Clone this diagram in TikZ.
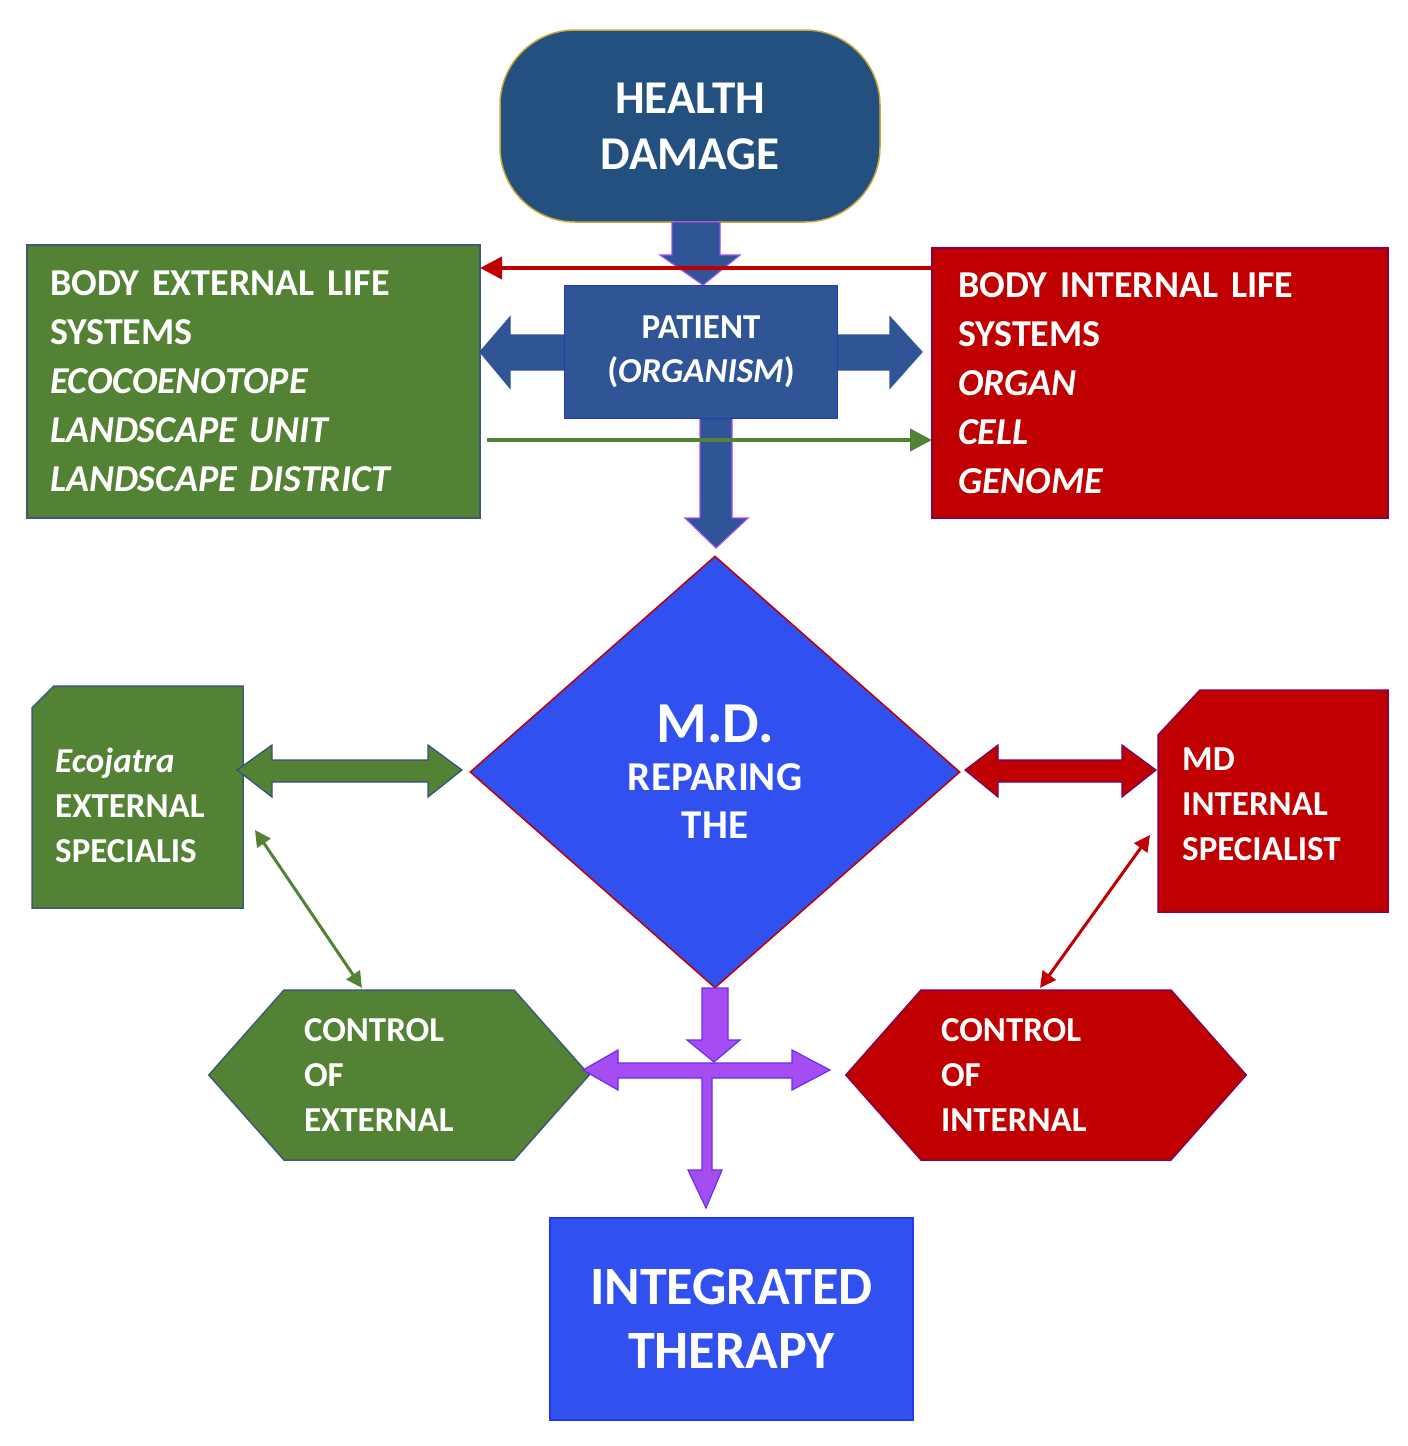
\documentclass[tikz,border=0pt]{standalone}
\usepackage{fontspec}
\setmainfont{Carlito}
\usetikzlibrary{shapes.misc,shapes.symbols,shapes.geometric,arrows.meta}
\definecolor{dblue}{HTML}{24507F}
\definecolor{pblue}{HTML}{2F5597}
\definecolor{bblue}{HTML}{3050F0}
\definecolor{gr}{HTML}{548235}
\definecolor{rd}{HTML}{C00000}
\definecolor{pu}{HTML}{A64DF2}
\definecolor{gold}{HTML}{C9A83A}
\tikzset{
 box/.style={draw=#1!70!blue,line width=1.5pt,fill=#1,text=white,font=\bfseries,inner sep=0pt,outer sep=0pt},
 big/.style={font=\fontsize{38}{49}\selectfont\bfseries},
 mid/.style={font=\fontsize{35}{45}\selectfont\bfseries},
 txt/.style={text=white,inner sep=0pt,anchor=north west,align=left},
 thin/.style={line width=4pt,-{Triangle[length=22pt,width=22pt]}},
 thind/.style={line width=3pt,{Triangle[length=16pt,width=16pt]}-{Triangle[length=16pt,width=16pt]}},
 blk/.style={draw=#1!60!blue,line width=1.2pt,fill=#1},
}
\begin{document}
\begin{tikzpicture}[x=1pt,y=-1pt]
\useasboundingbox (0,0) rectangle (1408,1446);
% Health damage
\node[box=dblue,draw=gold,rounded corners=75pt,minimum width=380pt,minimum height=192pt,align=center,font=\fontsize{47}{56}\selectfont\bfseries] (hd) at (690,126) {HEALTH\\DAMAGE};
% left/right top boxes
\node[box=gr,minimum width=453pt,minimum height=273pt,anchor=north west,text width=407pt,align=left,big,inner xsep=23pt] (ext) at (27,245) {BODY EXTERNAL LIFE\\SYSTEMS\\\textit{ECOCOENOTOPE}\\\textit{LANDSCAPE UNIT}\\\textit{LANDSCAPE DISTRICT}};
\node[box=rd,minimum width=456pt,minimum height=270pt,anchor=north west,text width=404pt,align=left,big,inner xsep=26pt] (int) at (932,248) {BODY INTERNAL LIFE\\SYSTEMS\\\textit{ORGAN}\\\textit{CELL}\\\textit{GENOME}};
% down arrow HD -> patient
\filldraw[blk=pblue,draw=pu] (672,222) -- (720,222) -- (720,255) -- (740,255) -- (703,285) -- (660,255) -- (672,255) -- cycle;
% red line
\draw[thin,rd] (932,268) -- (ext.east|-0,268);
% patient double arrow
\filldraw[blk=pblue,draw=pblue] (480,352) -- (510,317) -- (510,335) -- (890,335) -- (890,317) -- (922,352) -- (890,388) -- (890,370) -- (510,370) -- (510,388) -- cycle;
% down arrow patient -> diamond
\filldraw[blk=pblue,draw=pu] (700,415) -- (732,415) -- (732,518) -- (748,518) -- (716,548) -- (685,518) -- (700,518) -- cycle;
\node[box=pblue,minimum width=273pt,minimum height=133pt,align=center,font=\fontsize{35}{44}\selectfont\bfseries] (pat) at (701,352) {PATIENT\\(\textit{ORGANISM})};
% green line
\draw[thin,gr] (487,440) -- (int.west|-0,440);
% diamond
\node[diamond,draw=rd,line width=1.5pt,fill=bblue,text=white,minimum width=490pt,minimum height=432pt,inner sep=0pt,align=center,font=\fontsize{41}{48}\selectfont\bfseries] (md) at (715,772) {\fontsize{58}{58}\selectfont M.D.\\REPARING\\THE};
% chamfered boxes
\filldraw[draw=gr!70!blue,line width=1.5pt,fill=gr] (32,708) -- (54,686) -- (243,686) -- (243,908) -- (32,908) -- cycle;
\node[txt,mid] (eco) at (55,748) {\textit{Ecojatra}\\EXTERNAL\\SPECIALIS};
\filldraw[draw=rd!70!blue,line width=1.5pt,fill=rd] (1158,735) -- (1200,690) -- (1388,690) -- (1388,912) -- (1158,912) -- cycle;
\node[txt,mid] (mdi) at (1182,748) {MD\\INTERNAL\\SPECIALIST};
% double block arrows side
\filldraw[blk=gr] (237,770) -- (272,745) -- (272,760) -- (428,760) -- (428,745) -- (462,770) -- (428,797) -- (428,782) -- (272,782) -- (272,797) -- cycle;
\filldraw[blk=rd] (965,770) -- (998,745) -- (998,760) -- (1122,760) -- (1122,745) -- (1156,770) -- (1122,797) -- (1122,782) -- (998,782) -- (998,797) -- cycle;
% hexagons
\node[signal,signal to=west and east,signal pointer angle=97,box=gr,minimum width=368pt,minimum height=170pt,text width=230pt,align=left,mid,inner sep=0pt] (ce) at (399,1075) {\hspace*{20pt}CONTROL\\\hspace*{20pt}OF\\\hspace*{20pt}EXTERNAL};
\node[signal,signal to=west and east,signal pointer angle=97,box=rd,minimum width=397pt,minimum height=170pt,text width=250pt,align=left,mid,inner sep=0pt] (ci) at (1046,1075) {\hspace*{20pt}CONTROL\\\hspace*{20pt}OF\\\hspace*{20pt}INTERNAL};
% thin double arrows
\draw[thind,gr] (255,830) -- (362,988);
\draw[thind,rd] (1150,835) -- (1040,988);
% purple arrows
\filldraw[blk=pu] (702,988) -- (728,988) -- (728,1040) -- (740,1040) -- (714,1062) -- (687,1040) -- (702,1040) -- cycle;
\filldraw[blk=pu] (583,1070) -- (618,1050) -- (618,1063) -- (792,1063) -- (792,1050) -- (830,1070) -- (792,1090) -- (792,1078) -- (712,1078) -- (712,1170) -- (722,1170) -- (706,1208) -- (688,1170) -- (702,1170) -- (702,1078) -- (618,1078) -- (618,1090) -- cycle;
% integrated therapy
\node[box=bblue,minimum width=363pt,minimum height=202pt,anchor=north west,align=center,font=\fontsize{54}{64}\selectfont\bfseries] (it) at (550,1218) {INTEGRATED\\THERAPY};
\end{tikzpicture}
\end{document}
